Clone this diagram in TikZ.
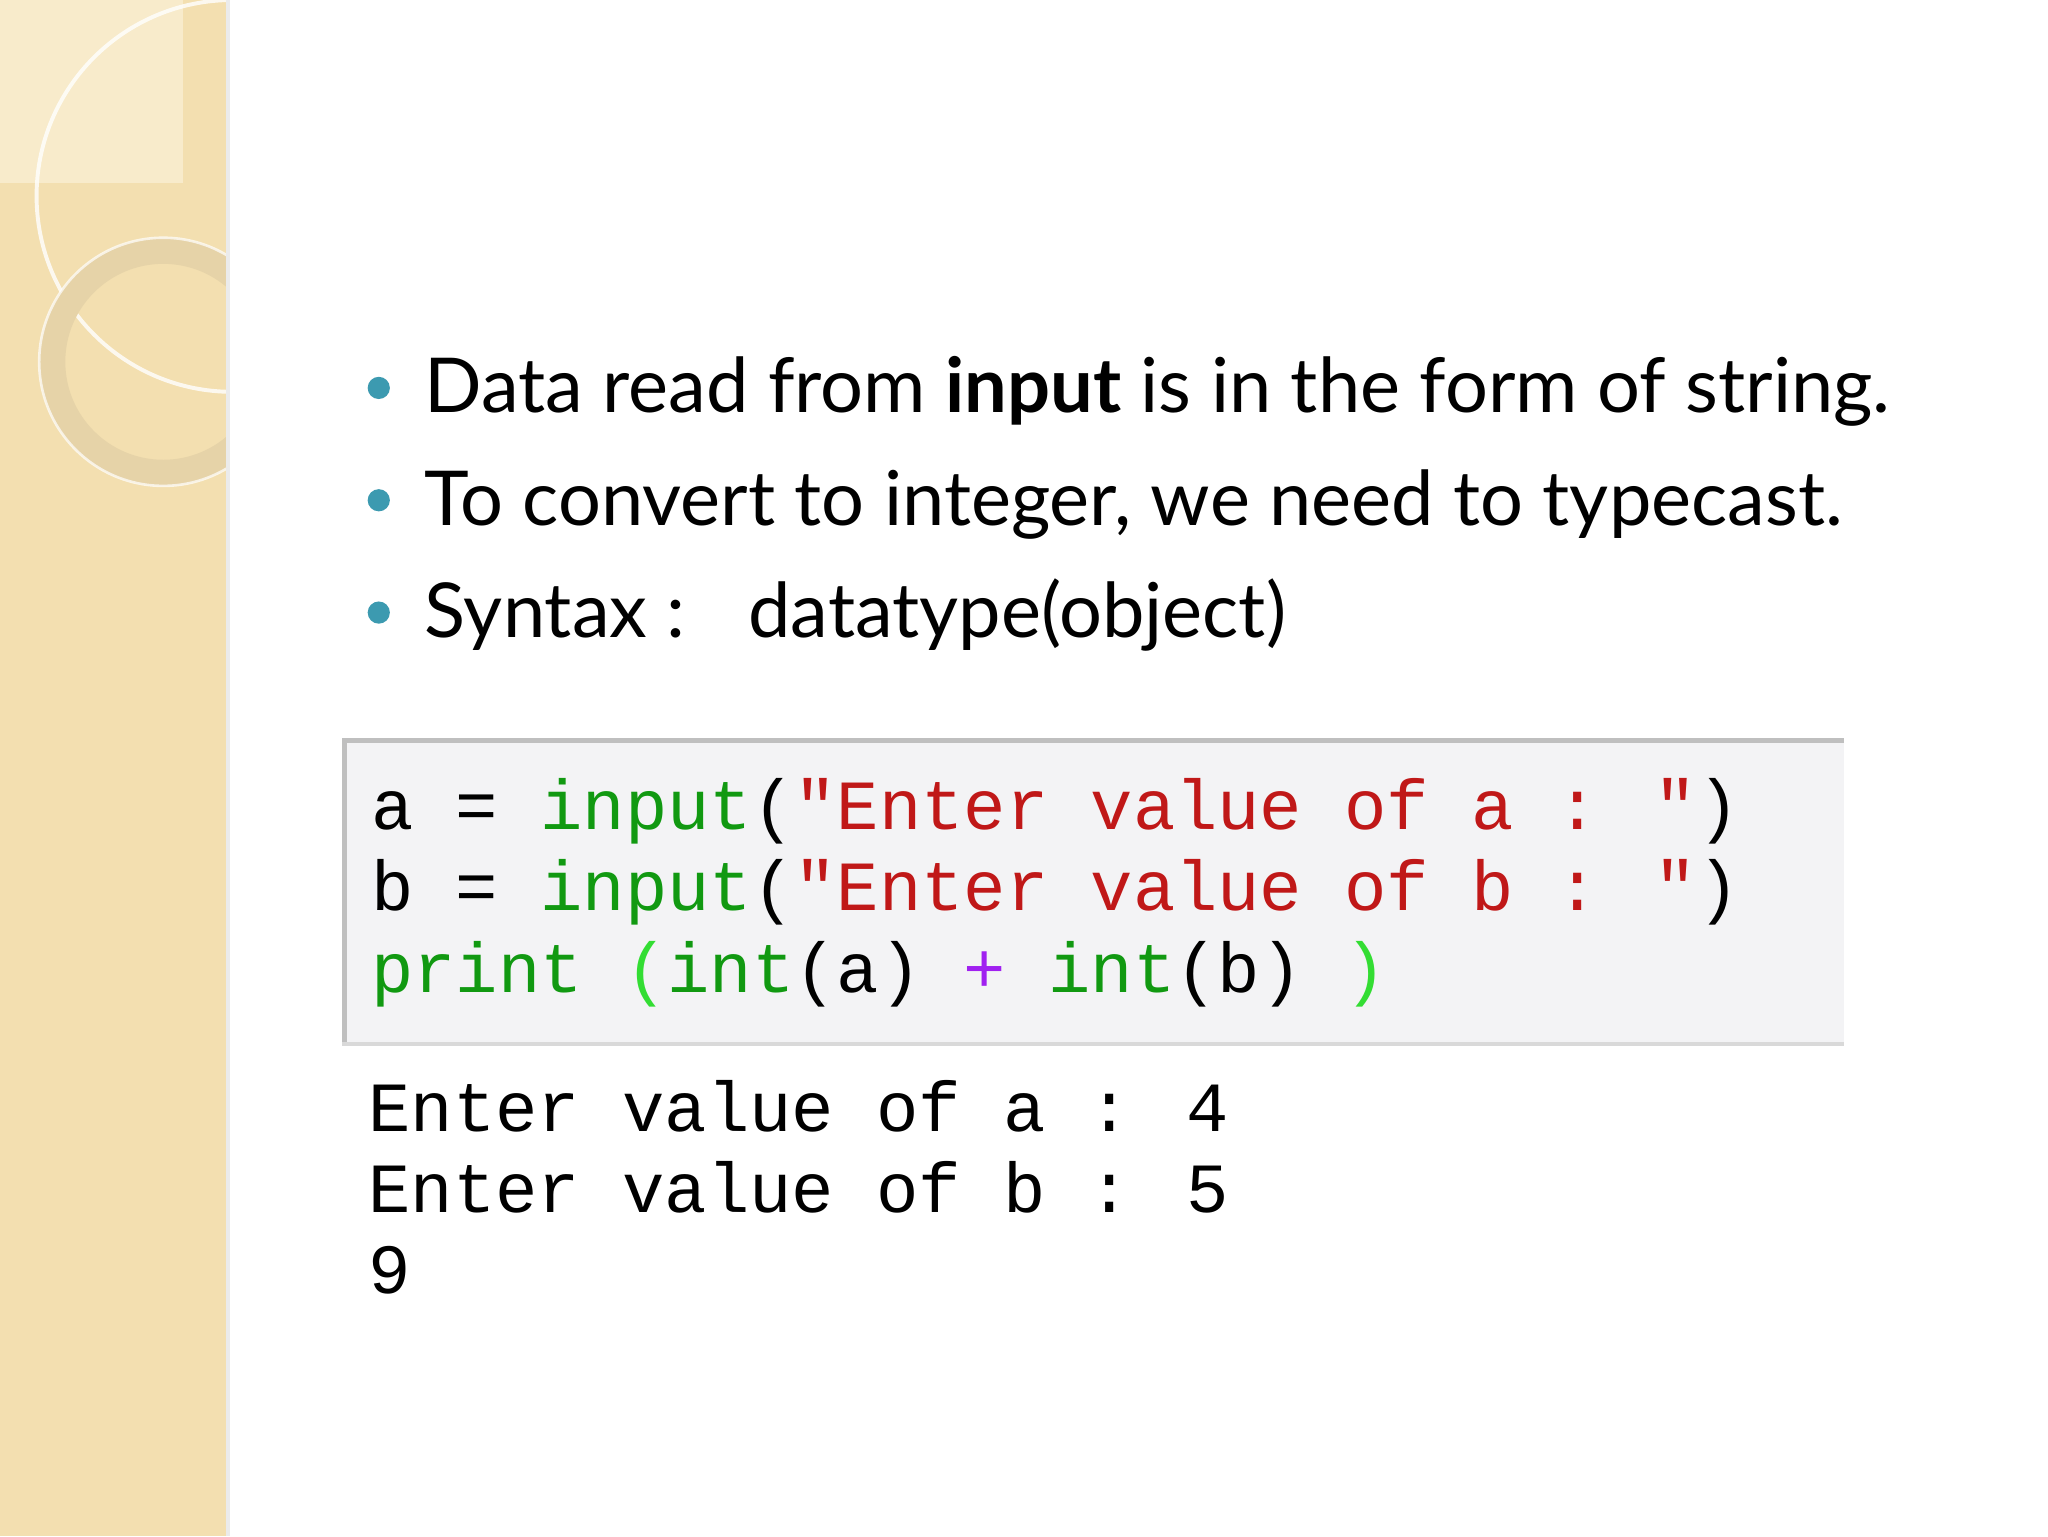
\documentclass[tikz,border=0pt]{standalone}
\usepackage{fontspec}
\setmainfont{Lato}
\newfontfamily\codefont{Liberation Mono}
\definecolor{beige}{HTML}{F3DFB0}
\definecolor{beigel}{HTML}{F8EBCB}
\definecolor{ring}{HTML}{E6D3A8}
\definecolor{teal}{HTML}{3C9AB0}
\definecolor{cg}{HTML}{119911}
\definecolor{cr}{HTML}{C01818}
\definecolor{cp}{HTML}{A020F0}
\definecolor{cl}{HTML}{33DD33}
\definecolor{boxbg}{HTML}{F3F3F5}
\tikzset{bul/.style={anchor=base west,inner sep=0,font=\fontsize{58}{70}\selectfont},
code/.style={anchor=base west,inner sep=0,font=\codefont\fontsize{54}{60}\selectfont},
dot/.style={circle,fill=teal,inner sep=0,minimum size=17}}
\begin{document}
\begin{tikzpicture}[x=1pt,y=-1pt]
\useasboundingbox (0,0) rectangle (1568,1176);
\fill[white] (0,0) rectangle (1568,1176);
\fill[beige] (0,0) rectangle (173,1176);
\fill[beigel] (0,0) rectangle (140,140);
\begin{scope}
\clip (0,0) rectangle (173,1176);
\draw[white,line width=3,opacity=0.8] (178,150) circle (150);
\draw[ring,line width=20] (125,277) circle (85);
\draw[white,line width=2,opacity=0.7] (125,277) circle (95);
\end{scope}
\fill[black!8] (173,0) rectangle (176,1176);
\node[dot] (d1) at (290,297) {};
\node[dot] (d2) at (290,383) {};
\node[dot] (d3) at (290,469) {};
\node[bul] (t1) at (325,316) {Data read from \textbf{input} is in the form of string.};
\node[bul] (t2) at (325,402) {To convert to integer, we need to typecast.};
\node[bul] (t3) at (325,488) {Syntax :\hspace{48pt}datatype(object)};
\fill[boxbg] (262,565) rectangle (1412,800);
\draw[black!25,line width=4] (264,800) -- (264,567) -- (1412,567);
\draw[black!15,line width=3] (262,799) -- (1412,799);
\node[code] (c1) at (284,635) {a = \textcolor{cg}{input}(\textcolor{cr}{"Enter value of a : "})};
\node[code] (c2) at (284,697) {b = \textcolor{cg}{input}(\textcolor{cr}{"Enter value of b : "})};
\node[code] (c3) at (284,760) {\textcolor{cg}{print} \textcolor{cl}{(}\textcolor{cg}{int}(a) \textcolor{cp}{+} \textcolor{cg}{int}(b) \textcolor{cl}{)}};
\node[code] (o1) at (282,866) {Enter value of a : 4};
\node[code] (o2) at (282,928) {Enter value of b : 5};
\node[code] (o3) at (282,990) {9};
\end{tikzpicture}
\end{document}
